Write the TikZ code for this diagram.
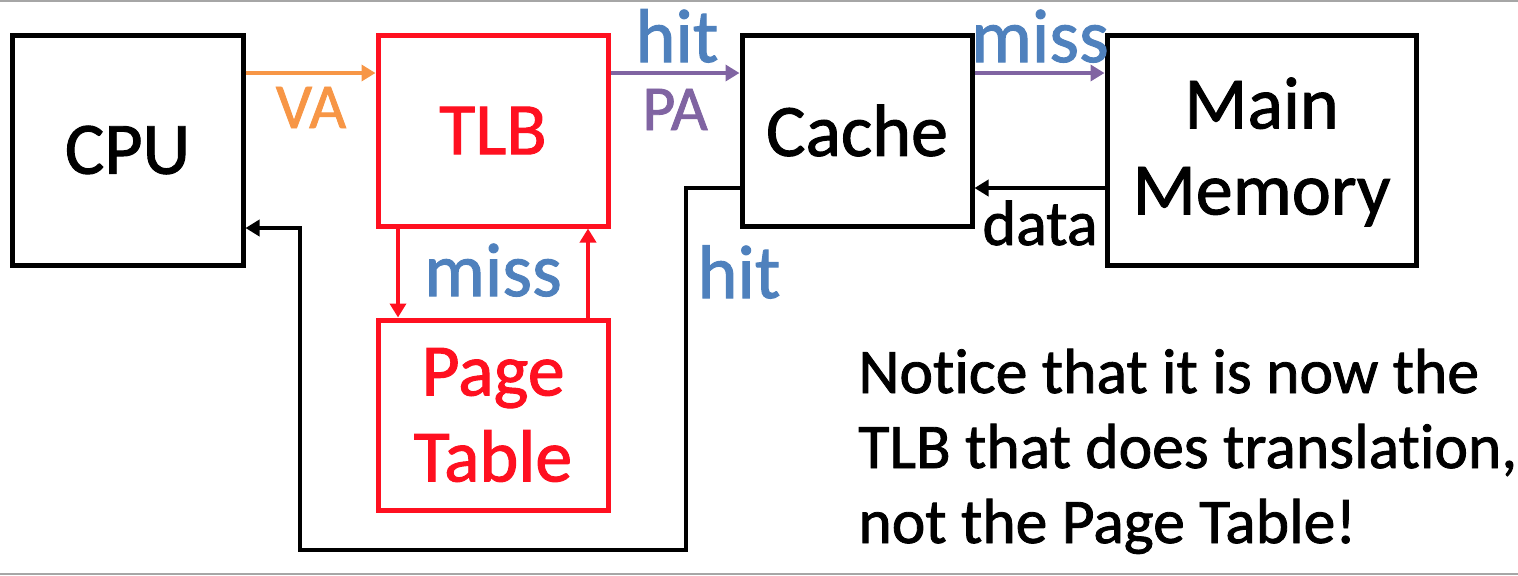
\documentclass[tikz,border=0pt]{standalone}
\usepackage{fontspec}
\setmainfont[FakeBold=1.3, Ligatures=NoCommon]{Carlito}
\usetikzlibrary{arrows.meta, positioning}
\definecolor{vaorange}{RGB}{247,150,70}
\definecolor{hitblue}{RGB}{79,129,189}
\definecolor{papurple}{RGB}{128,100,162}
\definecolor{tlbred}{RGB}{255,16,32}

\begin{document}
\begin{tikzpicture}[
        x=0.5pt, y=-0.5pt,
        block/.style={draw, line width=2.5pt, minimum width=115pt, minimum height=95.5pt, align=center, font=\fontsize{37}{43}\selectfont},
        redblock/.style={block, draw=tlbred, text=tlbred},
        flow/.style={line width=2.25pt, -{Triangle[length=7pt,width=8pt]}},
        tag/.style={anchor=base, inner sep=0pt, font=\fontsize{32}{38}\selectfont},
        bluetag/.style={tag, text=hitblue, font=\fontsize{38}{44}\selectfont}
    ]
        \useasboundingbox (0,0) rectangle (1518,575);
        % Frame
        \draw[gray!70, line width=0.6pt] (0,1) -- (1518,1);
        \draw[gray!70, line width=0.6pt] (0,574) -- (1518,574);

        % Blocks
        \node (cpu) [block, minimum width=115.5pt, minimum height=115pt] at (127.5, 150) {CPU};
        \node (tlb) [redblock] at (493, 130.5) {TLB};
        \node (pt) [redblock, minimum height=95pt] at (493, 415) {Page\\Table};
        \node (cache) [block] at (857, 130.5) {Cache};
        \node (mem) [block, minimum width=154.5pt, minimum height=115pt, text depth=4pt] at (1261.5, 150) {Main\\Memory};

        % Rows and columns of the connectors
        \coordinate (toprow) at (0, 73);
        \coordinate (datarow) at (0, 188);
        \coordinate (missdown) at (398, 0);
        \coordinate (missup) at (588, 0);
        \coordinate (retright) at (686, 550);
        \coordinate (retleft) at (300, 228);

        % Connectors
        \draw [flow, vaorange] (cpu.east |- toprow) -- (tlb.west |- toprow);
        \draw [flow, papurple] (tlb.east |- toprow) -- (cache.west |- toprow);
        \draw [flow, papurple] (cache.east |- toprow) -- (mem.west |- toprow);
        \draw [flow] (mem.west |- datarow) -- (cache.east |- datarow);
        \draw [flow, tlbred] (tlb.south -| missdown) -- (pt.north -| missdown);
        \draw [flow, tlbred] (pt.north -| missup) -- (tlb.south -| missup);
        \draw [flow] (cache.west |- datarow) -| (retright) -| (retleft) -- (cpu.east |- retleft);

        % Labels
        \node (va) [tag, text=vaorange] at (311, 128) {VA};
        \node (hittop) [bluetag] at (677, 62) {hit};
        \node (pa) [tag, text=papurple] at (675, 130) {PA};
        \node (misstop) [bluetag] at (1040, 62) {miss};
        \node (data) [tag] at (1040, 245) {data};
        \node (missmid) [bluetag] at (493, 296) {miss};
        \node (hitmid) [bluetag] at (739, 298) {hit};

        % Note
        \node (note) [anchor=base west, align=left, inner sep=0pt, font=\fontsize{31.8}{37.5}\selectfont] at (858, 543) {Notice that it is now the\\TLB that does translation,\\not the Page Table!};
    \end{tikzpicture}
\end{document}
